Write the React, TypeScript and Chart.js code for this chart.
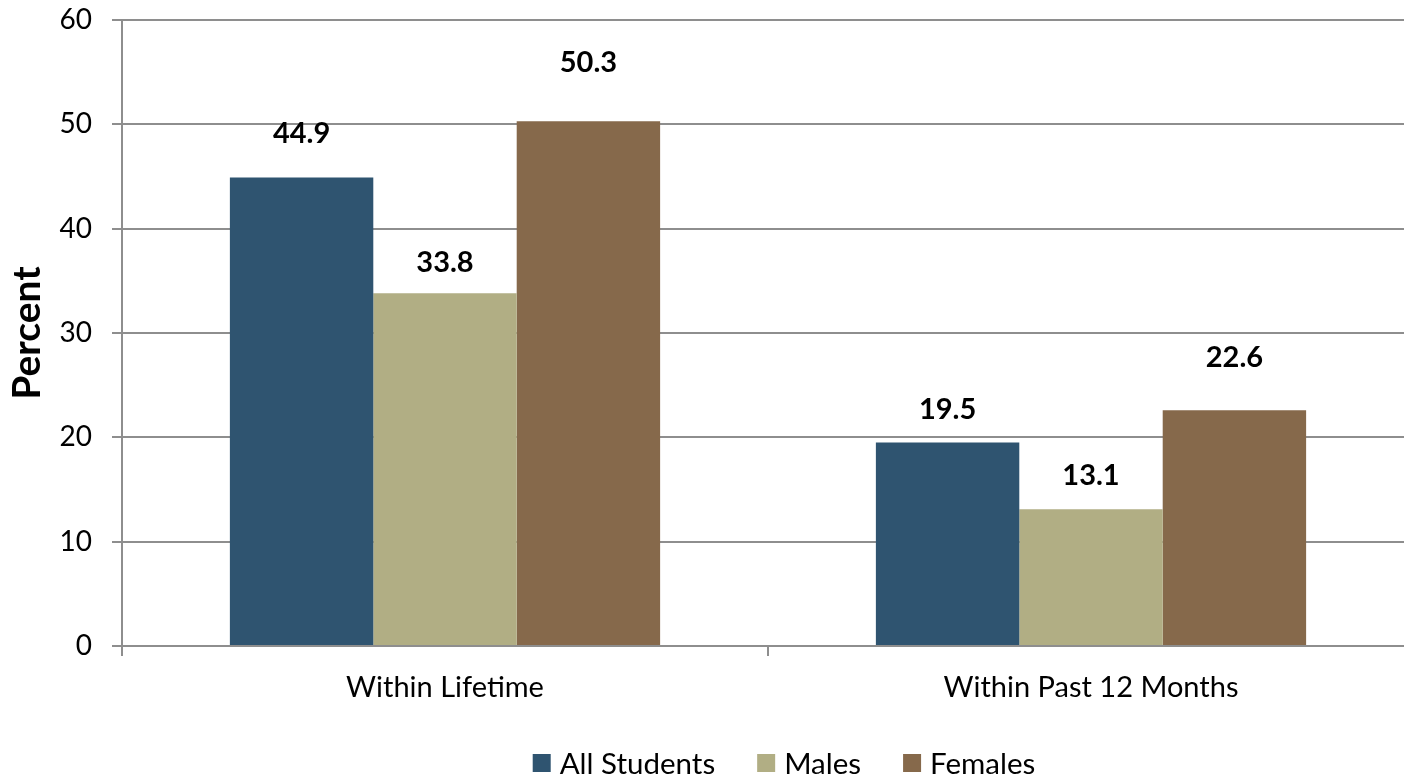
import React, { useEffect, useRef } from "react";
import { Chart, registerables } from "chart.js";

Chart.register(...registerables);

const categories = ["Within Lifetime", "Within Past 12 Months"];
const seriesNames = ["All Students", "Males", "Females"];
const allStudents = [44.9, 19.5];
const males = [33.8, 13.1];
const females = [50.3, 22.6];
const yTicks = [0, 10, 20, 30, 40, 50, 60];

const COLORS = ["#2F5470", "#B1AE84", "#86694B"];
// vertical lift (px) of each value label above its bar top
const LABEL_LIFT = [
  [44, 33],
  [31, 34],
  [59, 53],
];

const FONT = "Lato, 'Open Sans', sans-serif";
const GRID = "#8E8E8E";

const CANVAS_W = 1420;
const CANVAS_H = 775;
const PLOT_LEFT = 122;
const PLOT_TOP = 20;
const PLOT_BOTTOM = 646;
const LEGEND_CX = 784;
const LEGEND_CY = 763;

const valueLabels = {
  id: "valueLabels",
  afterDatasetsDraw(chart: any) {
    const ctx = chart.ctx;
    ctx.save();
    ctx.font = `bold 29px ${FONT}`;
    ctx.fillStyle = "#000";
    ctx.textAlign = "center";
    ctx.textBaseline = "middle";
    chart.data.datasets.forEach((ds: any, di: number) => {
      const meta = chart.getDatasetMeta(di);
      meta.data.forEach((bar: any, i: number) => {
        const v = ds.data[i];
        ctx.fillText(v.toFixed(1), bar.x, bar.y - LABEL_LIFT[di][i]);
      });
    });
    ctx.restore();
  },
};

const customLegend = {
  id: "customLegend",
  afterDraw(chart: any) {
    const ctx = chart.ctx;
    const box = 18;
    const gap = 9;
    const itemGap = 42;
    ctx.save();
    ctx.font = `29.5px ${FONT}`;
    ctx.textBaseline = "middle";
    ctx.textAlign = "left";
    const items = chart.data.datasets.map((ds: any) => ({
      label: ds.label,
      color: ds.backgroundColor,
      w: ctx.measureText(ds.label).width,
    }));
    const total =
      items.reduce((s: number, it: any) => s + box + gap + it.w, 0) + itemGap * (items.length - 1);
    let x = LEGEND_CX - total / 2;
    items.forEach((it: any) => {
      ctx.fillStyle = it.color;
      ctx.fillRect(x, LEGEND_CY - box / 2, box, box);
      ctx.fillStyle = "#000";
      ctx.fillText(it.label, x + box + gap, LEGEND_CY + 1);
      x += box + gap + it.w + itemGap;
    });
    ctx.restore();
  },
};

export default function App() {
  const ref = useRef<HTMLCanvasElement>(null);

  useEffect(() => {
    document.body.style.overflow = "hidden";
    const chart = new Chart(ref.current!, {
      type: "bar",
      data: {
        labels: categories,
        datasets: [allStudents, males, females].map((d, i) => ({
          label: seriesNames[i],
          data: d,
          backgroundColor: COLORS[i],
          borderWidth: 0,
          barPercentage: 1,
          categoryPercentage: 0.666,
        })),
      },
      options: {
        responsive: false,
        animation: false,
        layout: { padding: { top: PLOT_TOP, right: CANVAS_W - 1414, left: 0, bottom: 0 } },
        plugins: {
          tooltip: { enabled: false },
          legend: { display: false },
        },
        scales: {
          x: {
            grid: {
              display: true,
              drawOnChartArea: false,
              drawTicks: true,
              tickLength: 10,
              color: GRID,
              lineWidth: 2,
              offset: true,
            },
            border: { display: true, color: GRID, width: 2 },
            ticks: {
              font: { family: FONT, size: 29 },
              color: "#000",
              padding: 14,
              maxRotation: 0,
            },
            afterFit(scale: any) {
              scale.height = CANVAS_H - PLOT_BOTTOM;
              scale.paddingLeft = 0;
              scale.paddingRight = 0;
            },
          },
          y: {
            min: 0,
            max: 60,
            afterBuildTicks(scale: any) {
              scale.ticks = yTicks.map((v) => ({ value: v }));
            },
            grid: {
              color: GRID,
              lineWidth: 2,
              tickLength: 10,
            },
            border: { display: true, color: GRID, width: 2 },
            ticks: {
              font: { family: FONT, size: 28 },
              color: "#000",
              padding: 20,
            },
            title: {
              display: true,
              text: "Percent",
              font: { family: FONT, size: 39, weight: "bold" },
              color: "#000",
              padding: { top: 4, bottom: 0 },
            },
            afterFit(scale: any) {
              scale.width = PLOT_LEFT;
              scale.paddingTop = 0;
              scale.paddingBottom = 0;
            },
          },
        },
      },
      plugins: [valueLabels, customLegend],
    });
    return () => chart.destroy();
  }, []);

  return (
    <div style={{ position: "fixed", left: 0, top: 0, width: CANVAS_W, height: CANVAS_H, background: "#fff" }}>
      <canvas ref={ref} width={CANVAS_W} height={CANVAS_H} style={{ display: "block" }} />
    </div>
  );
}
